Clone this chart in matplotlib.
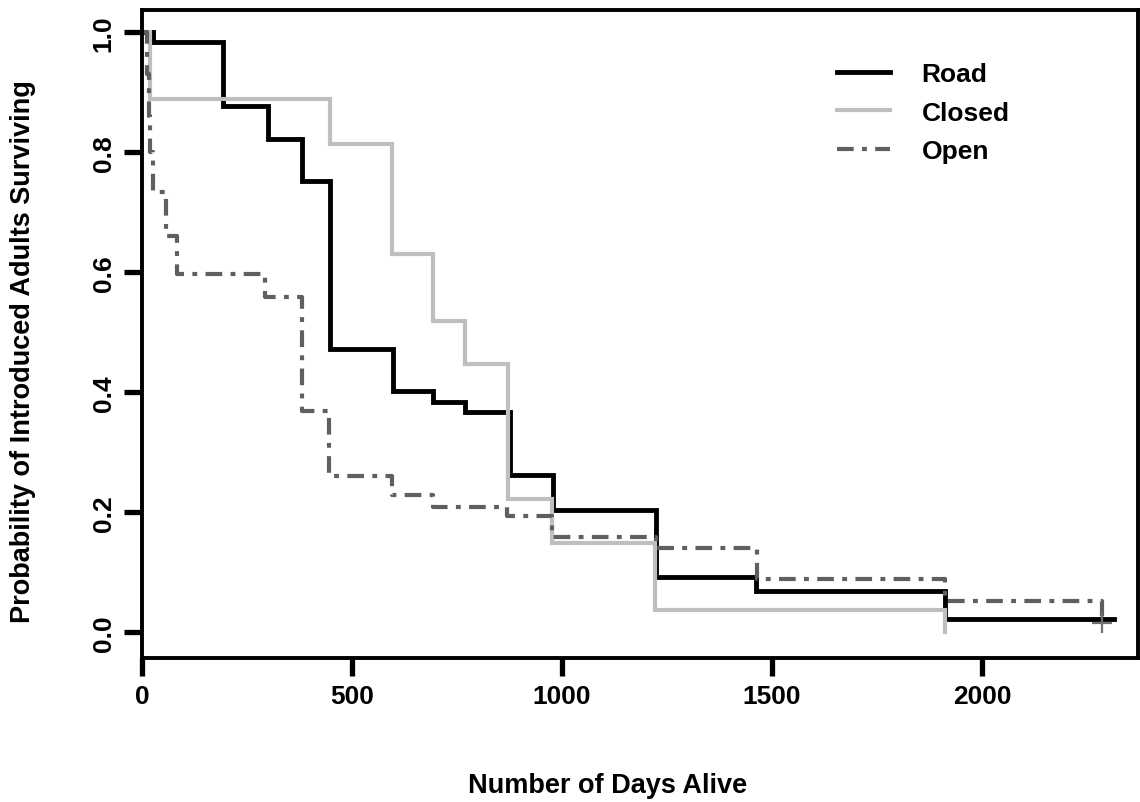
import matplotlib
matplotlib.use("Agg")
import matplotlib.pyplot as plt

plt.rcParams['font.family'] = ['Liberation Sans', 'DejaVu Sans']
plt.rcParams['font.weight'] = 'bold'
plt.rcParams['lines.scale_dashes'] = False

# Data
road_days = [0, 26, 193, 300, 381, 448, 598, 693, 769, 876, 978, 1224, 1462, 1912, 2314]
road_surv = [1.0, 0.983, 0.877, 0.822, 0.752, 0.472, 0.402, 0.383, 0.367, 0.262, 0.203, 0.092, 0.068, 0.022, 0.022]

closed_days = [0, 20, 448, 595, 692, 769, 871, 976, 1221, 1912]
closed_surv = [1.0, 0.888, 0.813, 0.63, 0.518, 0.447, 0.222, 0.148, 0.037, 0.0]

open_days = [0, 12, 16, 20, 26, 57, 84, 293, 381, 446, 595, 693, 869, 976, 1224, 1464, 1912, 2286]
open_surv = [1.0, 0.93, 0.86, 0.80, 0.733, 0.66, 0.597, 0.558, 0.368, 0.26, 0.228, 0.208, 0.193, 0.158, 0.14, 0.088, 0.052, 0.015]

censor_day = [2286]
censor_surv = [0.015]

x_ticks = [0, 500, 1000, 1500, 2000]
y_ticks = [0.0, 0.2, 0.4, 0.6, 0.8, 1.0]
y_ticklabels = ['0.0', '0.2', '0.4', '0.6', '0.8', '1.0']

fig = plt.figure(figsize=(11.40, 8.03), dpi=100)
ax = fig.add_axes([142/1140, 144/803, (1138-142)/1140, (659-11)/803])

ax.step(road_days, road_surv, where='post', color='black', lw=3.5, label='Road',
        solid_joinstyle='miter')
ax.step(closed_days, closed_surv, where='post', color='#bfbfbf', lw=3.0, label='Closed',
        solid_joinstyle='miter')
ax.step(open_days, open_surv, where='post', color='#5f5f5f', lw=3.0, label='Open',
        dashes=(12, 6, 3.5, 6), dash_capstyle='butt')
ax.plot(censor_day, censor_surv, marker='+', color='#707070', ms=14, mew=1.6, ls='none')

ax.set_xlim(0, 2371)
ax.set_ylim(-0.043, 1.037)

ax.set_xticks(x_ticks)
ax.set_xticklabels([str(v) for v in x_ticks])
ax.set_yticks(y_ticks)
ax.set_yticklabels(y_ticklabels, rotation=90, va='center')

for s in ax.spines.values():
    s.set_linewidth(2.8)
ax.tick_params(axis='both', direction='out', length=13, width=3.8, labelsize=19, pad=6)

ax.set_xlabel('Number of Days Alive', fontsize=19.5, fontweight='bold', labelpad=46)
ax.set_ylabel('Probability of Introduced Adults Surviving', fontsize=19.5, fontweight='bold', labelpad=40)
ax.xaxis.label.set_x(0.467)
ax.yaxis.label.set_y(0.474)

leg = ax.legend(loc='upper left', bbox_to_anchor=(837/1140, 1-63/803), bbox_transform=fig.transFigure,
                frameon=False, fontsize=19, handlelength=2.0, handletextpad=1.2,
                labelspacing=0.55, borderpad=0, borderaxespad=0)
for t in leg.get_texts():
    t.set_fontweight('bold')

fig.savefig('out.png', dpi=100)
